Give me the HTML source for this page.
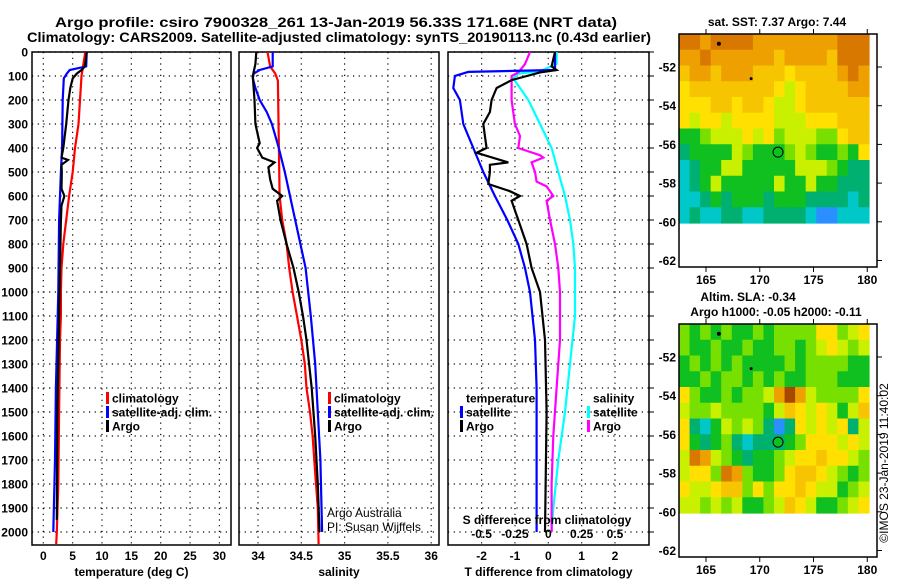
<!DOCTYPE html>
<html><head><meta charset="utf-8"><style>
html,body{margin:0;padding:0;background:#fff;}
svg{display:block;font-family:"Liberation Sans",sans-serif;}
.t{font-weight:bold;font-size:12px;fill:#000;}
</style></head><body>
<svg id="fig" width="900" height="580" viewBox="0 0 900 580" xmlns="http://www.w3.org/2000/svg">
<text x="55" y="27" font-size="14" font-weight="bold" textLength="562" lengthAdjust="spacingAndGlyphs">Argo profile: csiro 7900328_261 13-Jan-2019 56.33S 171.68E (NRT data)</text>
<text x="27" y="42" font-size="14" font-weight="bold" textLength="624" lengthAdjust="spacingAndGlyphs">Climatology: CARS2009. Satellite-adjusted climatology: synTS_20190113.nc (0.43d earlier)</text>
<g id="g1"></g>
<g id="g2"></g>
<g id="g3"></g>
<g id="m1"></g>
<g id="m2"></g>
<text x="0" y="0" font-size="12" transform="translate(888,463) rotate(-90)" text-anchor="middle">©IMOS 23-Jan-2019 11:40:02</text>
</svg>
<script>
// ---- data ----
const depthTicks=[0,100,200,300,400,500,600,700,800,900,1000,1100,1200,1300,1400,1500,1600,1700,1800,1900,2000];
const tTicks=[0,5,10,15,20,25,30];
const sTicks=[34,34.5,35,35.5,36];
const dTicks=[-2,-1,0,1,2];
const sdTicks=[-0.5,-0.25,0,0.25,0.5];
const sdTickLabels=["-0.5","-0.25","0","0.25","0.5"];
const tClimD=[0,100,200,300,400,500,600,700,800,900,1000,1100,1200,1500,1800,2000,2050];
const tClimV=[7.15,6.5,6.25,6.0,5.4,5.0,4.4,3.9,3.4,3.1,3.0,3.0,2.85,2.7,2.55,2.3,2.2];
const tSatD=[0,60,75,90,110,200,400,500,700,1000,1400,1700,2000];
const tSatV=[7.4,7.3,4.5,4.0,3.5,3.3,3.2,3.0,2.7,2.55,2.15,2.0,1.7];
const tArgoD=[0,60,75,90,110,150,200,300,400,440,450,470,500,570,600,640,700,900,1100,1500,1950];
const tArgoV=[7.4,7.1,6.5,5.7,5.0,4.6,4.3,3.9,3.4,3.1,4.2,3.1,3.15,3.1,3.6,3.1,3.0,2.85,2.7,2.4,2.3];
const sClimD=[0,60,90,120,600,700,800,900,1000,1100,1200,1300,1400,1500,1600,1700,1800,1900,2050];
const sClimV=[34.11,34.14,34.2,34.23,34.25,34.28,34.33,34.36,34.4,34.45,34.5,34.54,34.56,34.6,34.63,34.65,34.67,34.69,34.7];
const sSatD=[0,60,75,90,110,150,200,250,300,400,500,600,700,800,900,1000,1100,1300,1500,1700,2000];
const sSatV=[34.17,34.17,34.02,33.95,33.94,33.97,34.02,34.1,34.16,34.24,34.31,34.37,34.43,34.49,34.55,34.58,34.61,34.66,34.69,34.72,34.74];
const sArgoD=[0,50,100,200,300,380,400,440,460,480,530,570,600,620,700,800,900,1000,1100,1200,1400,1600,1800,2000];
const sArgoV=[33.98,33.97,33.94,33.96,33.97,34.02,33.99,34.05,34.19,34.12,34.14,34.17,34.28,34.22,34.26,34.33,34.41,34.47,34.52,34.56,34.62,34.66,34.69,34.71];
const dtSatD=[0,75,83,100,150,200,300,400,500,600,700,800,900,1000,1200,1400,2000];
const dtSatV=[0.2,0.2,-2.4,-2.8,-2.85,-2.65,-2.55,-2.25,-1.95,-1.6,-1.23,-0.9,-0.7,-0.55,-0.4,-0.35,-0.35];
const dtArgoD=[0,60,75,85,117,150,200,250,300,350,400,420,460,470,500,550,580,600,620,700,800,900,1000,1200,1500,2000];
const dtArgoV=[0.2,0.1,0.25,-0.25,-1.1,-1.55,-1.7,-1.75,-1.95,-1.9,-1.85,-2.15,-1.2,-1.75,-1.75,-1.8,-1.15,-0.85,-1.1,-0.9,-0.65,-0.5,-0.25,-0.1,-0.05,-0.1];
const dsArgoD=[0,50,85,100,200,300,350,400,430,440,460,500,540,560,600,620,700,800,900,1000,1200,1400,1600,1800,2000];
const dsArgoV=[-0.1375,-0.175,-0.225,-0.275,-0.275,-0.25,-0.2125,-0.225,-0.0625,-0.0375,-0.125,-0.1,-0.0875,-0.0125,0.0375,-0.0125,0.0125,0.05,0.075,0.0875,0.0875,0.0625,0.0375,0.025,0.025];
const dsSatD=[0,50,80,90,110,150,200,300,400,500,600,700,800,900,1000,1100,1300,1500,1700,1900,2000];
const dsSatV=[0.0625,0.0625,-0.0625,-0.225,-0.2625,-0.2125,-0.15,-0.0625,0.025,0.075,0.125,0.1625,0.1875,0.2,0.2,0.2,0.1625,0.125,0.075,0.0375,0.025];
const mapLatTicks=[-52,-54,-56,-58,-60,-62];
const mapLonTicks=[165,170,175,180];
const argoLon=171.7, argoLat=-56.4;
const sstRows=["aabaaaabbbbbbbbaaa","bbabbbbbbcbbbbcaaa","cbbcbbbcccdccccbab","dccccccccdedccccbb","dddccdccdeedcccccc","deddeddddeeedddccc","ggfeeededfeeeffdcc","hggggefgggfefggfgd","ihggeegggggeeefghh","ihgegggggeggegghhh","iihghggghggghhhhih","ihiihhiihhhhijjiii"];
const slaRows=["fgfgfggfgffffddfed","fggfggfggffgfedefe","gfgfgfggggfgffffgg","ggfgffgfgfggfffggg","dfggfgffebkbeffffd","effeffffgecdedegec","dhigefefhjhdededhe","dghgfhihhhgfdddede","eabefghggfeddcddef","eddfabfggfdccdefgf","deedccfdfddcdeegfe","eefefeggfecdeggfed"];
const pal={a:"#d87800",b:"#eea000",c:"#f6c400",d:"#ffe000",e:"#c8f000",f:"#78e000",g:"#10c020",h:"#00b070",i:"#00c8c8",j:"#2a90ff",k:"#a84800",l:"#d06000"};

const NS="http://www.w3.org/2000/svg";
function mk(parent,tag,attrs){const e=document.createElementNS(NS,tag);for(const k in attrs)e.setAttribute(k,attrs[k]);parent.appendChild(e);return e;}
const yD=d=>52+d*0.24;
const PB=545;

function panel(g,x0,x1,xf,ticks,labels,xTitle){
  ticks.forEach(v=>{const l=mk(g,'line',{x1:xf(v),x2:xf(v),y1:52,y2:PB,stroke:'#000','stroke-width':1.2,'stroke-dasharray':'1.2,4.5'});
    });
  depthTicks.forEach(d=>{const l=mk(g,'line',{x1:x0,x2:x1,y1:yD(d),y2:yD(d),stroke:'#000','stroke-width':1.2,'stroke-dasharray':'1.2,4.5'});
    });
  const r=mk(g,'rect',{x:x0,y:52,width:x1-x0,height:PB-52,fill:'none',stroke:'#000','stroke-width':1.5});
  
  ticks.forEach((v,i)=>{const t=mk(g,'text',{x:xf(v),y:560,'text-anchor':'middle',class:'t'});t.textContent=labels[i];
    });
  const tt=mk(g,'text',{x:(x0+x1)/2,y:576,'text-anchor':'middle',class:'t'});tt.textContent=xTitle;
  
}
function series(g,D,V,xf,color,name,w){
  const pts=D.map((d,i)=>xf(V[i]).toFixed(1)+','+yD(d).toFixed(1)).join(' ');
  const p=mk(g,'polyline',{points:pts,fill:'none',stroke:color,'stroke-width':w||2.2,'stroke-linejoin':'miter'});
  
}
function legend(g,x,y,items){
  items.forEach((it,i)=>{
    if(it[0]){const b=mk(g,'rect',{x:x,y:y+i*14-6,width:3,height:12,fill:it[0]});
      }
    const t=mk(g,'text',{x:x+6,y:y+i*14+4.5,class:'t'});t.textContent=it[1];
    
  });
}

const g1=document.getElementById('g1');
const xT=v=>43.3+5.87*v;
panel(g1,32,231,xT,tTicks,tTicks.map(String),'temperature (deg C)');
depthTicks.forEach(d=>{const t=mk(g1,'text',{x:28,y:yD(d)+4.5,'text-anchor':'end',class:'t'});t.textContent=d;
  });
series(g1,tClimD,tClimV,xT,'#f00','temp-climatology-line');
series(g1,tSatD,tSatV,xT,'#00f','temp-satellite-line');
series(g1,tArgoD,tArgoV,xT,'#000','temp-argo-line');
legend(g1,106,398,[['#f00','climatology'],['#00f','satellite-adj. clim.'],['#000','Argo']]);

const g2=document.getElementById('g2');
const xS=v=>258+86.6*(v-34);
panel(g2,239,439,xS,sTicks,sTicks.map(String),'salinity');
series(g2,sClimD,sClimV,xS,'#f00','sal-climatology-line');
series(g2,sSatD,sSatV,xS,'#00f','sal-satellite-line');
series(g2,sArgoD,sArgoV,xS,'#000','sal-argo-line');
legend(g2,328,398,[['#f00','climatology'],['#00f','satellite-adj. clim.'],['#000','Argo']]);
const c1=mk(g2,'text',{x:327,y:517,'font-size':12});c1.textContent='Argo Australia';

const c2=mk(g2,'text',{x:327,y:531,'font-size':12});c2.textContent='PI: Susan Wijffels';


const g3=document.getElementById('g3');
const xDf=v=>548.3+33.35*v;
const xSd=v=>xDf(v*4);
panel(g3,448,649,xDf,dTicks,dTicks.map(String),'T difference from climatology');
depthTicks.forEach(d=>{const l=mk(g3,'line',{x1:649,x2:654,y1:yD(d),y2:yD(d),stroke:'#000','stroke-width':1});
  });
series(g3,dsSatD,dsSatV,xSd,'#0ff','sal-diff-satellite-line');
series(g3,dsArgoD,dsArgoV,xSd,'#f0f','sal-diff-argo-line');
series(g3,dtSatD,dtSatV,xDf,'#00f','temp-diff-satellite-line');
series(g3,dtArgoD,dtArgoV,xDf,'#000','temp-diff-argo-line');
legend(g3,460,398,[[null,'temperature'],['#00f','satellite'],['#000','Argo']]);
legend(g3,587,398,[[null,'salinity'],['#0ff','satellite'],['#f0f','Argo']]);
const st=mk(g3,'text',{x:547,y:524,'text-anchor':'middle',class:'t'});st.textContent='S difference from climatology';

sdTicks.forEach((v,i)=>{const t=mk(g3,'text',{x:xSd(v),y:538,'text-anchor':'middle',class:'t'});t.textContent=sdTickLabels[i];
  });

function map(g,oy,rows,titles){
  const lonX=l=>706+(l-165)*10.75;
  const latY=a=>oy+67+(-52-a)*19.35;
  const cx0=679,cx1=869,cy0=oy+34,cy1=oy+223;
  const nc=rows[0].length,nr=rows.length;
  const cw=(cx1-cx0)/nc,ch=(cy1-cy0)/nr;
  rows.forEach((row,ri)=>{for(let ci=0;ci<nc;ci++){
    const c=mk(g,'rect',{x:(cx0+ci*cw).toFixed(2),y:(cy0+ri*ch).toFixed(2),width:(cw+0.6).toFixed(2),height:(ch+0.6).toFixed(2),fill:pal[row[ci]]||'#fff'});
    }});
  const fr=mk(g,'rect',{x:679,y:oy+34,width:198,height:233,fill:'none',stroke:'#000','stroke-width':1.5});
  
  mapLatTicks.forEach(a=>{const y=latY(a);
    const l=mk(g,'line',{x1:877,x2:882,y1:y,y2:y,stroke:'#000'});
    const t=mk(g,'text',{x:676,y:y+4.5,'text-anchor':'end',class:'t'});t.textContent=a;
    });
  mapLonTicks.forEach(l=>{const x=lonX(l);
    const a=mk(g,'line',{x1:x,x2:x,y1:oy+29,y2:oy+34,stroke:'#000'});
    const b=mk(g,'line',{x1:x,x2:x,y1:oy+267,y2:oy+272,stroke:'#000'});
    const t=mk(g,'text',{x:x,y:oy+284,'text-anchor':'middle',class:'t'});t.textContent=l;
    });
  const i1=mk(g,'circle',{cx:lonX(166.2),cy:latY(-50.8),r:2,fill:'#000'});
  const i2=mk(g,'circle',{cx:lonX(169.2),cy:latY(-52.6),r:1.5,fill:'#000'});
  const fc=mk(g,'circle',{cx:lonX(argoLon),cy:latY(argoLat),r:5,fill:'#10c020',stroke:'#000','stroke-width':1});
  
  titles.forEach((tt,i)=>{const t=mk(g,'text',{x:tt[1],y:tt[2],'text-anchor':'middle',class:'t'});t.textContent=tt[0];
    });
}
map(document.getElementById('m1'),0,sstRows,[['sat. SST: 7.37 Argo: 7.44',777,26]]);
map(document.getElementById('m2'),290,slaRows,[['Altim. SLA: -0.34',748,301],['Argo h1000: -0.05 h2000: -0.11',776,316]]);
</script>
</body></html>
